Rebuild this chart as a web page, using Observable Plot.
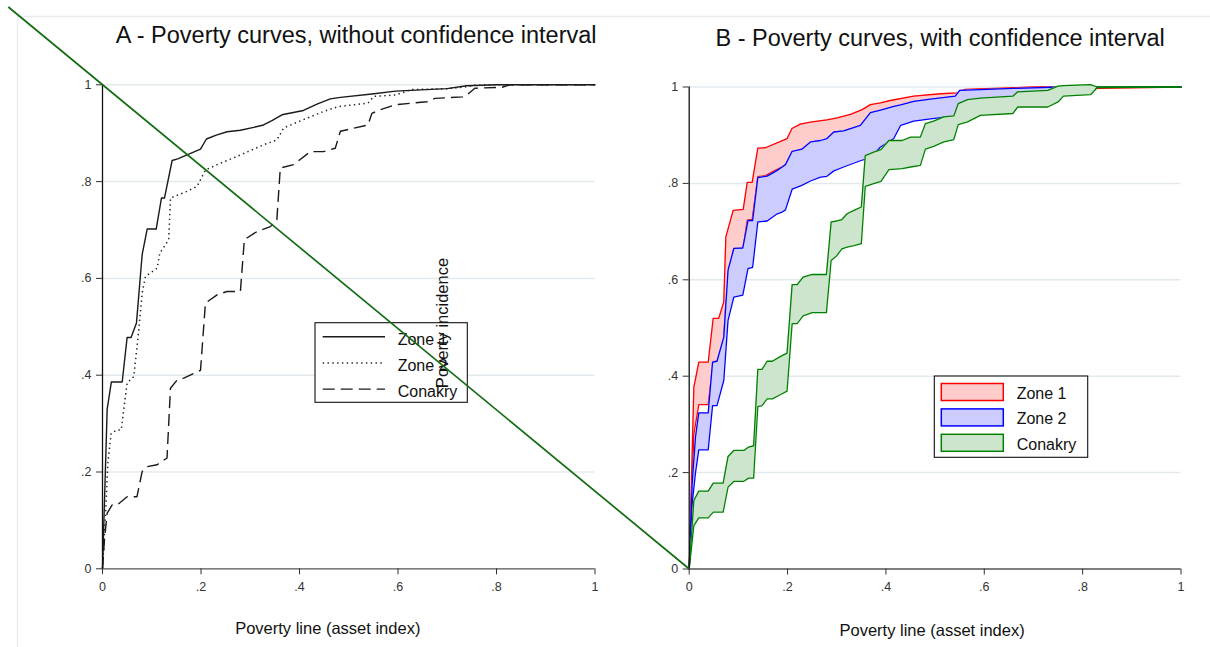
<!DOCTYPE html>
<html>
<head>
<meta charset="utf-8">
<script src="https://cdn.jsdelivr.net/npm/d3@7"></script>
<script src="https://cdn.jsdelivr.net/npm/@observablehq/plot@0.6"></script>
<style>
  body { margin: 0; background: #fff; }
  #fig { position: relative; width: 1210px; height: 647px; overflow: hidden; font-family: "Liberation Sans", Arial, sans-serif; }
  #fig .panel { position: absolute; top: 0; }
  #fig svg [aria-label$="tick label"], #fig svg [aria-label$="tick label"] text { font-size: 12.5px !important; }
</style>
</head>
<body>
<div id="fig"></div>
<script>
// ---- Panel A: poverty incidence curves (point estimates) ----
const zone1X = [0, 0.0095, 0.018, 0.040, 0.050, 0.058, 0.069, 0.0805, 0.0907, 0.109, 0.1197, 0.1258, 0.1414, 0.1527, 0.199, 0.211, 0.231, 0.253, 0.28, 0.307, 0.327, 0.344, 0.3645, 0.408, 0.4355, 0.4625, 0.483, 0.547, 0.595, 0.6994, 0.7396, 0.8, 1];
const zone1Y = [0, 0.33, 0.386, 0.386, 0.478, 0.478, 0.508, 0.649, 0.702, 0.702, 0.766, 0.766, 0.8436, 0.847, 0.867, 0.888, 0.896, 0.903, 0.906, 0.912, 0.917, 0.926, 0.938, 0.947, 0.96, 0.971, 0.974, 0.981, 0.987, 0.992, 0.998, 1, 1];

const zone2X = [0, 0.006, 0.0108, 0.0176, 0.030, 0.038, 0.043, 0.050, 0.0635, 0.0737, 0.0805, 0.0872, 0.111, 0.1163, 0.1345, 0.138, 0.172, 0.192, 0.209, 0.2326, 0.28, 0.327, 0.354, 0.368, 0.415, 0.449, 0.479, 0.539, 0.551, 0.595, 0.627, 0.70, 0.74, 0.756, 0.80, 1];
const zone2Y = [0, 0.108, 0.218, 0.280, 0.287, 0.287, 0.328, 0.384, 0.397, 0.494, 0.570, 0.604, 0.621, 0.652, 0.68, 0.766, 0.78, 0.79, 0.824, 0.835, 0.855, 0.876, 0.886, 0.911, 0.931, 0.945, 0.955, 0.962, 0.976, 0.979, 0.99, 0.992, 0.996, 0.999, 1, 1];

const conakryX = [0, 0.004, 0.0095, 0.0197, 0.030, 0.050, 0.070, 0.0805, 0.0907, 0.111, 0.131, 0.138, 0.1515, 0.165, 0.199, 0.209, 0.2326, 0.253, 0.28, 0.288, 0.314, 0.341, 0.354, 0.361, 0.388, 0.422, 0.449, 0.4726, 0.483, 0.539, 0.547, 0.563, 0.595, 0.659, 0.675, 0.731, 0.74, 0.756, 0.8114, 0.8276, 1];
const conakryY = [0, 0.06, 0.115, 0.132, 0.132, 0.149, 0.149, 0.201, 0.211, 0.215, 0.229, 0.373, 0.39, 0.394, 0.41, 0.549, 0.566, 0.573, 0.573, 0.68, 0.697, 0.707, 0.721, 0.828, 0.835, 0.862, 0.862, 0.869, 0.904, 0.917, 0.941, 0.948, 0.959, 0.965, 0.972, 0.975, 0.979, 0.993, 0.995, 1, 1];

// ---- Panel B: confidence bands (lower / upper bounds) ----
const zone1BandX  = [0, 0.0094, 0.0195, 0.0386, 0.0488, 0.06, 0.0703, 0.0745, 0.0894, 0.1098, 0.118, 0.128, 0.1395, 0.155, 0.199, 0.209, 0.226, 0.2465, 0.28, 0.301, 0.328, 0.3516, 0.3685, 0.389, 0.409, 0.4565, 0.511, 0.545, 0.56, 0.65, 0.7, 1];
const zone1BandHi = [0, 0.377, 0.429, 0.429, 0.52, 0.52, 0.554, 0.689, 0.744, 0.746, 0.802, 0.802, 0.873, 0.874, 0.893, 0.914, 0.923, 0.927, 0.932, 0.936, 0.943, 0.953, 0.9635, 0.967, 0.972, 0.981, 0.986, 0.988, 0.995, 0.998, 1, 1];
const zone1BandLo = [0, 0.28, 0.341, 0.341, 0.43, 0.432, 0.48, 0.55, 0.66, 0.667, 0.724, 0.725, 0.814, 0.816, 0.84, 0.862, 0.866, 0.88, 0.888, 0.9, 0.905, 0.915, 0.94, 0.946, 0.952, 0.964, 0.972, 0.975, 0.985, 0.99, 0.995, 1];

const zone2BandX  = [0, 0.006, 0.0128, 0.0195, 0.0386, 0.0475, 0.0565, 0.0703, 0.079, 0.0907, 0.109, 0.1195, 0.129, 0.1395, 0.1585, 0.179, 0.189, 0.1957, 0.2093, 0.229, 0.2465, 0.267, 0.28, 0.294, 0.314, 0.348, 0.3685, 0.389, 0.416, 0.43, 0.4565, 0.4905, 0.524, 0.541, 0.55, 0.592, 0.658, 0.753, 0.83, 1];
const zone2BandHi = [0, 0.177, 0.274, 0.324, 0.324, 0.429, 0.431, 0.481, 0.62, 0.665, 0.666, 0.723, 0.723, 0.812, 0.815, 0.827, 0.834, 0.839, 0.8666, 0.871, 0.886, 0.889, 0.893, 0.9066, 0.909, 0.9205, 0.947, 0.952, 0.96, 0.963, 0.97, 0.975, 0.979, 0.981, 0.993, 0.9946, 0.997, 1, 1, 1];
const zone2BandLo = [0, 0.135, 0.2, 0.247, 0.247, 0.339, 0.339, 0.391, 0.516, 0.564, 0.568, 0.623, 0.626, 0.72, 0.722, 0.737, 0.7405, 0.745, 0.788, 0.796, 0.805, 0.813, 0.8146, 0.826, 0.834, 0.847, 0.8535, 0.8755, 0.893, 0.9205, 0.929, 0.934, 0.938, 0.939, 0.945, 0.955, 0.97, 0.985, 1, 1];

const conakryBandX  = [0, 0.0094, 0.0195, 0.0386, 0.049, 0.069, 0.079, 0.0907, 0.111, 0.121, 0.131, 0.1395, 0.148, 0.1585, 0.169, 0.186, 0.199, 0.2093, 0.2195, 0.2317, 0.25, 0.279, 0.2886, 0.30, 0.3105, 0.321, 0.335, 0.35, 0.358, 0.375, 0.39, 0.406, 0.433, 0.45, 0.47, 0.4803, 0.497, 0.5176, 0.538, 0.547, 0.566, 0.592, 0.658, 0.668, 0.729, 0.75, 0.761, 0.816, 0.83, 1];
const conakryBandHi = [0, 0.142, 0.1615, 0.1615, 0.178, 0.178, 0.2335, 0.246, 0.246, 0.253, 0.2557, 0.414, 0.414, 0.431, 0.431, 0.441, 0.448, 0.59, 0.59, 0.6057, 0.611, 0.611, 0.72, 0.722, 0.725, 0.737, 0.744, 0.751, 0.8576, 0.865, 0.87, 0.889, 0.889, 0.896, 0.896, 0.924, 0.929, 0.938, 0.94, 0.9655, 0.974, 0.977, 0.981, 0.99, 0.993, 1.002, 1.003, 1.005, 1, 1];
const conakryBandLo = [0, 0.09, 0.106, 0.106, 0.118, 0.118, 0.17, 0.1816, 0.182, 0.1885, 0.1885, 0.337, 0.339, 0.353, 0.353, 0.362, 0.369, 0.509, 0.509, 0.525, 0.532, 0.532, 0.64, 0.65, 0.664, 0.668, 0.671, 0.675, 0.794, 0.7995, 0.804, 0.8285, 0.8306, 0.834, 0.8375, 0.871, 0.877, 0.886, 0.891, 0.922, 0.9275, 0.941, 0.945, 0.9585, 0.9585, 0.969, 0.981, 0.984, 0.999, 1];

// ---- Labels and ticks ----
const seriesNames = ["Zone 1", "Zone 2", "Conakry"];
const tickValues = [0, 0.2, 0.4, 0.6, 0.8, 1];
const gridValues = [0.2, 0.4, 0.6, 0.8, 1];
const titleA = "A - Poverty curves, without confidence interval";
const titleB = "B - Poverty curves, with confidence interval";
const xLabel = "Poverty line (asset index)";
const yLabel = "Poverty incidence";

const fmt = d => d === 0 ? "0" : d === 1 ? "1" : d3.format(".1f")(d).replace(/^0/, "");
const toRows = (xs, ys) => xs.map((x, i) => ({x, y: ys[i]}));
const toBand = (xs, lo, hi) => xs.map((x, i) => ({x, lo: lo[i], hi: hi[i]}));

const FONT = '"Liberation Sans", Arial, Helvetica, sans-serif';
const GRID = "#e2eaee";
const ink = "#1a1a1a";

function frameMarks() {
  return [
    Plot.gridY({ticks: gridValues, stroke: GRID, strokeOpacity: 1, strokeWidth: 1.5})
  ];
}
function axisMarks() {
  return [
    Plot.ruleY([0], {stroke: "#555", strokeWidth: 1.3}),
    Plot.ruleX([0], {stroke: "#111", strokeWidth: 1.3}),
    Plot.axisY({ticks: tickValues, tickFormat: fmt, tickSize: 6, tickPadding: 5, fontSize: 12.5, color: "#333", label: null}),
    Plot.axisX({ticks: tickValues, tickFormat: fmt, tickSize: 6, tickPadding: 7, fontSize: 12.5, color: "#333", label: null})
  ];
}

const lineStyles = [
  {stroke: ink, strokeWidth: 1.4},
  {stroke: "#222", strokeWidth: 1.5, strokeDasharray: "1.4,3.4", strokeLinecap: "butt"},
  {stroke: ink, strokeWidth: 1.4, strokeDasharray: "12,6", strokeLinecap: "butt"}
];

const plotA = Plot.plot({
  width: 605, height: 647,
  marginLeft: 102, marginRight: 10.5, marginTop: 84.3, marginBottom: 78.7,
  x: {domain: [0, 1]}, y: {domain: [0, 1]},
  style: {fontFamily: FONT, fontSize: "12.5px", color: "#222", background: "transparent", overflow: "visible"},
  marks: [
    ...frameMarks(),
    Plot.line(toRows(zone1X, zone1Y), {x: "x", y: "y", ...lineStyles[0]}),
    Plot.line(toRows(zone2X, zone2Y), {x: "x", y: "y", ...lineStyles[1]}),
    Plot.line(toRows(conakryX, conakryY), {x: "x", y: "y", ...lineStyles[2]}),
    ...axisMarks(),
    Plot.text([titleA], {frameAnchor: "top-right", textAnchor: "end", lineAnchor: "bottom", dx: 1.5, dy: -42.3, fontSize: 23.5, fill: "#111"}),
    Plot.text([xLabel], {frameAnchor: "bottom", dx: -21, dy: 65, fontSize: 16.5, fill: "#111"})
  ]
});

const bandColors = [
  {stroke: "#ff0000", fill: "#ffcccc"},
  {stroke: "#0000ff", fill: "#ccccff"},
  {stroke: "#008000", fill: "#cce5cc"}
];
const bands = [
  toBand(zone1BandX, zone1BandLo, zone1BandHi),
  toBand(zone2BandX, zone2BandLo, zone2BandHi),
  toBand(conakryBandX, conakryBandLo, conakryBandHi)
];
const bandMarks = bands.flatMap((rows, i) => [
  Plot.areaY(rows, {x: "x", y1: "lo", y2: "hi", fill: bandColors[i].fill, fillOpacity: 1}),
  Plot.line(rows, {x: "x", y: "hi", stroke: bandColors[i].stroke, strokeWidth: 1.3}),
  Plot.line(rows, {x: "x", y: "lo", stroke: bandColors[i].stroke, strokeWidth: 1.3})
]);

const plotB = Plot.plot({
  width: 605, height: 647,
  marginLeft: 83.7, marginRight: 29.5, marginTop: 86.5, marginBottom: 78.5,
  x: {domain: [0, 1]}, y: {domain: [0, 1]},
  style: {fontFamily: FONT, fontSize: "12.5px", color: "#222", background: "transparent", overflow: "visible"},
  marks: [
    ...frameMarks(),
    ...bandMarks,
    ...axisMarks(),
    Plot.text([titleB], {frameAnchor: "top-left", textAnchor: "start", lineAnchor: "bottom", dx: 26.3, dy: -41.5, fontSize: 23.5, fill: "#111"}),
    Plot.text([xLabel], {frameAnchor: "bottom", dx: -3, dy: 66.5, fontSize: 16.5, fill: "#111"})
  ]
});

const fig = document.getElementById("fig");
const offsetB = 605;
const wrapA = document.createElement("div"); wrapA.className = "panel"; wrapA.style.left = "0px"; wrapA.appendChild(plotA);
const wrapB = document.createElement("div"); wrapB.className = "panel"; wrapB.style.left = offsetB + "px"; wrapB.appendChild(plotB);
fig.appendChild(wrapA); fig.appendChild(wrapB);

// Tick labels: enforce the label size on every axis text node
d3.select(fig).selectAll('g[aria-label$="tick label"]').attr("font-size", 12.5)
  .selectAll("text").attr("font-size", 12.5);

// ---- Overlay: outer frame, legends, stray axis title and connecting line ----
const ov = d3.select(fig).append("svg")
  .attr("width", 1210).attr("height", 647)
  .style("position", "absolute").style("left", 0).style("top", 0)
  .style("font-family", FONT);

ov.append("path").attr("d", "M17.5,647V16.5H1210").attr("fill", "none").attr("stroke", "#e6ecef").attr("stroke-width", 1.5);

// Legend for panel A (line styles)
const legA = ov.append("g").attr("transform", "translate(315,322.7)");
legA.append("rect").attr("width", 152.3).attr("height", 79.6).attr("fill", "#fff").attr("stroke", "#111").attr("stroke-width", 1.1);
seriesNames.forEach((name, i) => {
  const cy = 14 + i * 26.2;
  const s = lineStyles[i];
  legA.append("line").attr("x1", 7.7).attr("x2", 70).attr("y1", cy).attr("y2", cy)
    .attr("stroke", s.stroke).attr("stroke-width", s.strokeWidth)
    .attr("stroke-dasharray", s.strokeDasharray || null);
  legA.append("text").attr("x", 82.7).attr("y", cy + 8.3).attr("font-size", 16).attr("fill", "#111").text(name);
});

// Legend for panel B (filled bands)
const legB = ov.append("g").attr("transform", "translate(934.3,376)");
legB.append("rect").attr("width", 153.4).attr("height", 81.3).attr("fill", "#fff").attr("stroke", "#111").attr("stroke-width", 1.1);
seriesNames.forEach((name, i) => {
  const cy = 16 + i * 25.4;
  legB.append("rect").attr("x", 7).attr("y", cy - 8.5).attr("width", 62).attr("height", 17)
    .attr("fill", bandColors[i].fill).attr("stroke", bandColors[i].stroke).attr("stroke-width", 1.5);
  legB.append("text").attr("x", 82.4).attr("y", cy + 7).attr("font-size", 16).attr("fill", "#111").text(name);
});

// Rotated axis title
ov.append("text").attr("transform", "translate(448,323) rotate(-90)")
  .attr("text-anchor", "middle").attr("font-size", 16.5).attr("fill", "#111").text(yLabel);

// Line from panel A's (0,1) corner to panel B's origin, extended up to the top edge
const xA = plotA.scale("x"), yA = plotA.scale("y");
const xB = plotB.scale("x"), yB = plotB.scale("y");
const p1 = [xA.apply(0), yA.apply(1)];
const p2 = [offsetB + xB.apply(0), yB.apply(0)];
const topY = 7;
const t = (p1[1] - topY) / (p2[1] - p1[1]);
const p0 = [p1[0] - t * (p2[0] - p1[0]), topY];
ov.append("line").attr("x1", p0[0]).attr("y1", p0[1]).attr("x2", p2[0]).attr("y2", p2[1])
  .attr("stroke", "#136b13").attr("stroke-width", 1.7);
</script>
</body>
</html>
